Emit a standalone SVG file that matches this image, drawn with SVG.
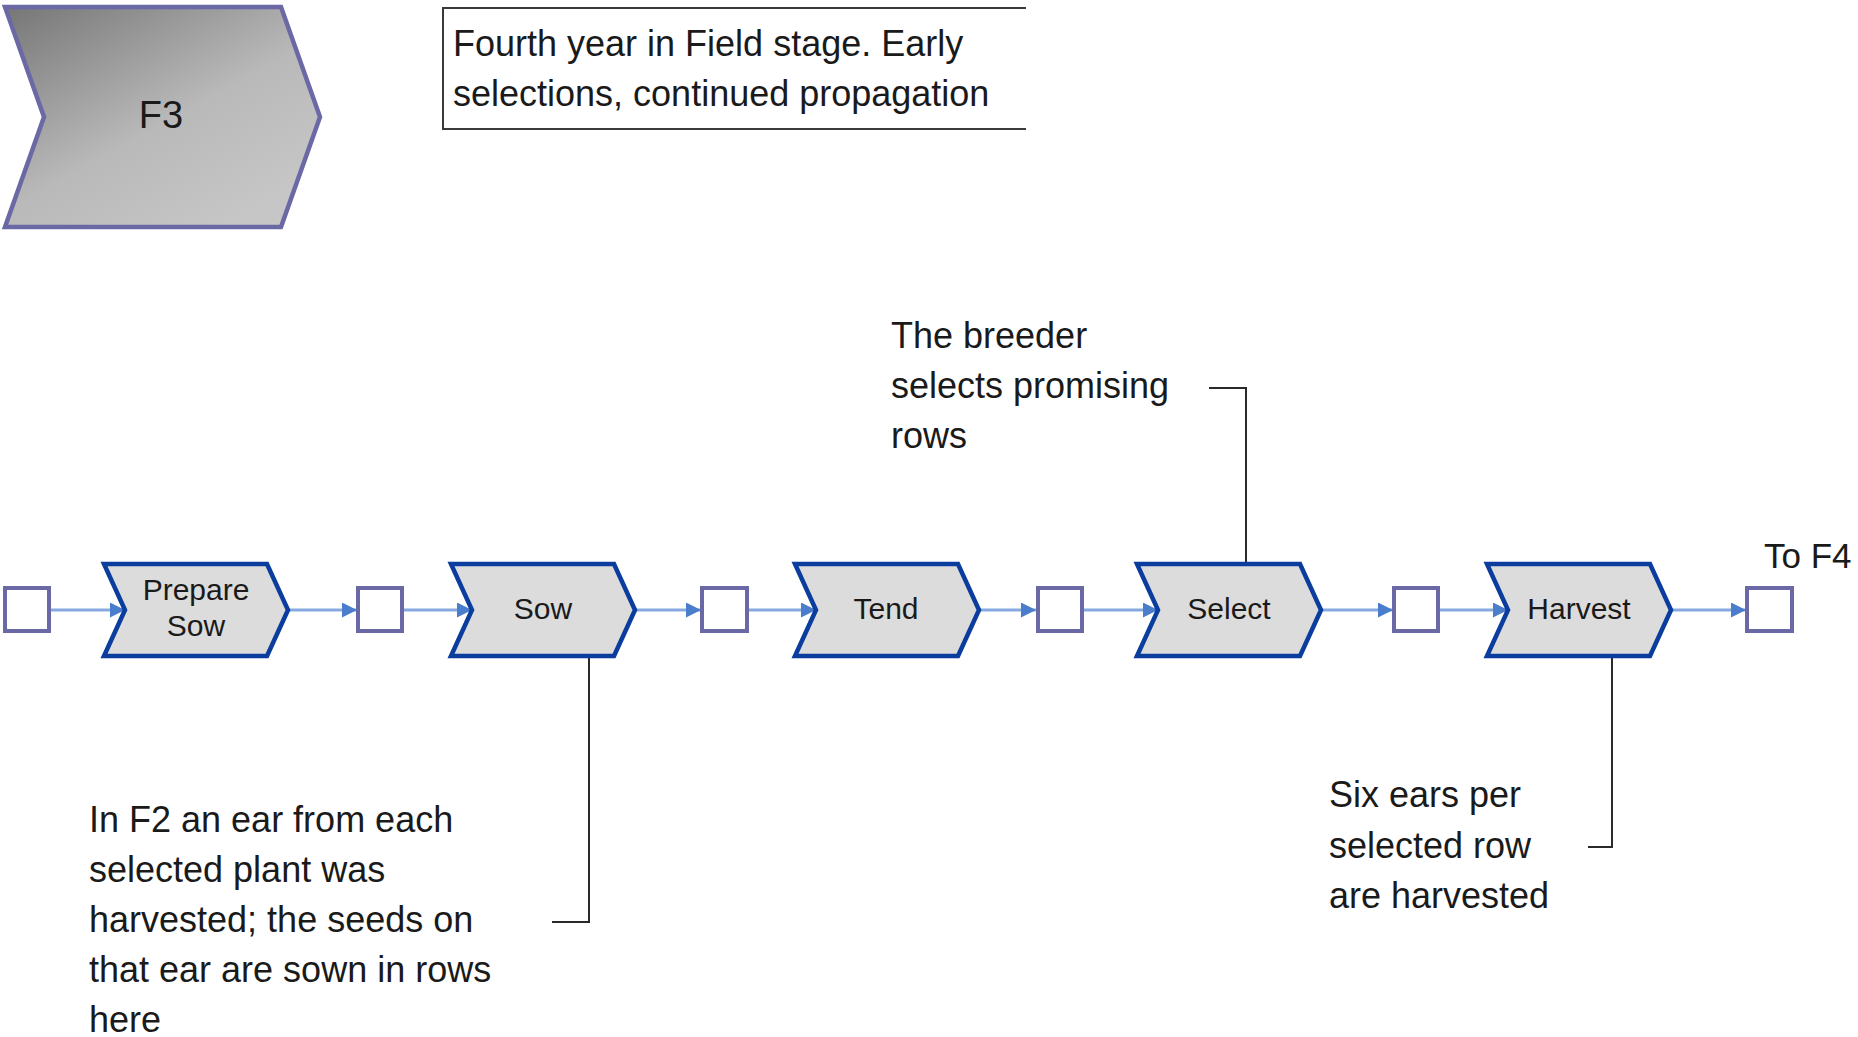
<svg xmlns="http://www.w3.org/2000/svg" width="1858" height="1037" viewBox="0 0 1858 1037">
  <style>
    text { font-family: "Liberation Sans", Arial, sans-serif; fill: #1a1a1a; }
    .note { font-size: 36px; }
    .label { font-size: 30px; text-anchor: middle; }
    .step { fill: #dcdcdc; stroke: #0a3d9e; stroke-width: 4.5; stroke-linejoin: miter; }
    .event { fill: #ffffff; stroke: #6b68a6; stroke-width: 4; }
    .flow { stroke: #86aadf; stroke-width: 3; fill: none; marker-end: url(#arrow); }
    .callout { stroke: #2a2a2a; stroke-width: 2; fill: none; }
  </style>
  <defs>
    <linearGradient id="stageFill" x1="0" y1="0" x2="0.75" y2="0.95">
      <stop offset="0" stop-color="#767676"/>
      <stop offset="0.6" stop-color="#b9b9b9"/>
      <stop offset="1" stop-color="#c6c6c6"/>
    </linearGradient>
    <marker id="arrow" markerWidth="6" markerHeight="6" refX="5" refY="2.5" orient="auto" markerUnits="strokeWidth">
      <path d="M0,0 L5,2.5 L0,5 Z" fill="#4a7dcb"/>
    </marker>
    <path id="chev" d="M0,0 H163 L184,46 L163,92 H0 L21,46 Z"/>
  </defs>

  <!-- stage header -->
  <g id="stage-f3">
    <path d="M5,7 H281 L320,117 L281,227 H5 L44,117 Z" fill="url(#stageFill)" stroke="#6b69a5" stroke-width="4.5"/>
    <text x="161" y="128" font-size="38" text-anchor="middle">F3</text>
  </g>

  <g id="stage-description">
    <path d="M1026,8 H443 V129 H1026" fill="none" stroke="#3a3a3a" stroke-width="2"/>
    <text class="note" x="453" y="56">Fourth year in Field stage. Early</text>
    <text class="note" x="453" y="106">selections, continued propagation</text>
  </g>

  <!-- connectors -->
  <g id="connectors">
    <line class="flow" x1="49" y1="610" x2="125" y2="610"/>
    <line class="flow" x1="288" y1="610" x2="357" y2="610"/>
    <line class="flow" x1="402" y1="610" x2="472" y2="610"/>
    <line class="flow" x1="635" y1="610" x2="701" y2="610"/>
    <line class="flow" x1="747" y1="610" x2="816" y2="610"/>
    <line class="flow" x1="979" y1="610" x2="1036" y2="610"/>
    <line class="flow" x1="1082" y1="610" x2="1158" y2="610"/>
    <line class="flow" x1="1321" y1="610" x2="1393" y2="610"/>
    <line class="flow" x1="1438" y1="610" x2="1508" y2="610"/>
    <line class="flow" x1="1672" y1="610" x2="1746" y2="610"/>
    <!-- annotation leaders -->
    <path class="callout" d="M589,656 V922 H552"/>
    <path class="callout" d="M1246,564 V388 H1209"/>
    <path class="callout" d="M1612,656 V847 H1588"/>
  </g>

  <!-- events -->
  <g id="event-start"><rect class="event" x="5" y="588" width="44" height="43"/></g>
  <g id="event-prepared"><rect class="event" x="358" y="588" width="44" height="43"/></g>
  <g id="event-sown"><rect class="event" x="702" y="588" width="45" height="43"/></g>
  <g id="event-tended"><rect class="event" x="1038" y="588" width="44" height="43"/></g>
  <g id="event-selected"><rect class="event" x="1394" y="588" width="44" height="43"/></g>
  <g id="event-to-f4"><rect class="event" x="1747" y="588" width="45" height="43"/></g>

  <!-- process steps -->
  <g id="step-prepare-sow">
    <use href="#chev" class="step" x="104" y="564"/>
    <text class="label" x="196" y="600">Prepare</text>
    <text class="label" x="196" y="636">Sow</text>
  </g>
  <g id="step-sow">
    <use href="#chev" class="step" x="451" y="564"/>
    <text class="label" x="543" y="619">Sow</text>
  </g>
  <g id="step-tend">
    <use href="#chev" class="step" x="795" y="564"/>
    <text class="label" x="886" y="619">Tend</text>
  </g>
  <g id="step-select">
    <use href="#chev" class="step" x="1137" y="564"/>
    <text class="label" x="1229" y="619">Select</text>
  </g>
  <g id="step-harvest">
    <use href="#chev" class="step" x="1487" y="564"/>
    <text class="label" x="1579" y="619">Harvest</text>
  </g>

  <!-- annotations -->
  <g id="note-to-f4">
    <text x="1764" y="568" font-size="35">To F4</text>
  </g>
  <g id="note-select">
    <text class="note" x="891" y="348">The breeder</text>
    <text class="note" x="891" y="398">selects promising</text>
    <text class="note" x="891" y="448">rows</text>
  </g>
  <g id="note-sow">
    <text class="note" x="89" y="832">In F2 an ear from each</text>
    <text class="note" x="89" y="882">selected plant was</text>
    <text class="note" x="89" y="932">harvested; the seeds on</text>
    <text class="note" x="89" y="982">that ear are sown in rows</text>
    <text class="note" x="89" y="1032">here</text>
  </g>
  <g id="note-harvest">
    <text class="note" x="1329" y="807">Six ears per</text>
    <text class="note" x="1329" y="858">selected row</text>
    <text class="note" x="1329" y="908">are harvested</text>
  </g>
</svg>
